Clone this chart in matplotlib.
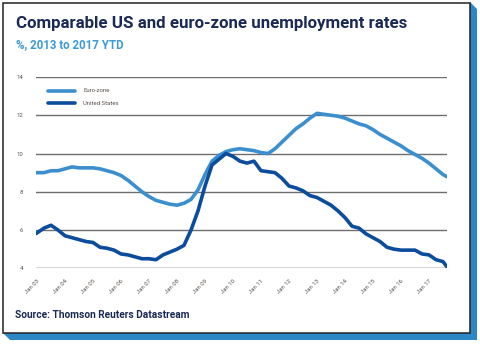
import matplotlib
matplotlib.use("Agg")
import matplotlib.pyplot as plt
from matplotlib.patches import Polygon, Rectangle
import numpy as np

# Quarterly readings, Jan 2003 onwards (Jan / Apr / Jul / Oct)
start_year = 2003.0
euro_zone = [9.0, 9.0, 9.1, 9.1, 9.2, 9.3, 9.25, 9.25,
             9.25, 9.2, 9.1, 9.0, 8.85, 8.6, 8.3, 8.0,
             7.75, 7.55, 7.45, 7.35, 7.3, 7.4, 7.6, 8.1,
             8.9, 9.6, 9.9, 10.1, 10.2, 10.25, 10.2, 10.15,
             10.05, 10.0, 10.25, 10.6, 10.95, 11.3, 11.55, 11.85,
             12.1, 12.05, 12.0, 11.95, 11.85, 11.7, 11.55, 11.45,
             11.25, 11.0, 10.8, 10.6, 10.4, 10.15, 9.95, 9.75,
             9.5, 9.2, 8.9, 8.8]
united_states = [5.85, 6.1, 6.25, 6.0, 5.7, 5.6, 5.5, 5.4,
                 5.35, 5.1, 5.05, 4.95, 4.75, 4.7, 4.6, 4.5,
                 4.5, 4.45, 4.7, 4.85, 5.0, 5.2, 6.0, 7.0,
                 8.3, 9.4, 9.7, 10.0, 9.85, 9.6, 9.5, 9.6,
                 9.1, 9.05, 9.0, 8.7, 8.3, 8.2, 8.05, 7.8,
                 7.7, 7.5, 7.3, 7.0, 6.65, 6.2, 6.1, 5.8,
                 5.6, 5.4, 5.1, 5.0, 4.95, 4.95, 4.95, 4.75,
                 4.7, 4.45, 4.35, 4.1]
year_labels = ["Jan 03", "Jan 04", "Jan 05", "Jan 06", "Jan 07", "Jan 08",
               "Jan 09", "Jan 10", "Jan 11", "Jan 12", "Jan 13", "Jan 14",
               "Jan 15", "Jan 16", "Jan 17"]
y_ticks = [4, 6, 8, 10, 12, 14]

n = len(euro_zone)
t = start_year + 0.25 * np.arange(n)
t[-1] = t[-2] + 0.13  # latest reading (mid 2017)

EURO_COL = "#3b8fcf"
US_COL = "#0b4c9c"
NAVY = "#1b2a55"
SUB_COL = "#3d9ad6"
SHADOW = "#2b87c5"
TICK_COL = "#5b524c"

W, H = 480, 344
fig = plt.figure(figsize=(W / 100, H / 100), dpi=100)
fig.patch.set_facecolor("white")

# card background, drawn in pixel coordinates
bg = fig.add_axes([0, 0, 1, 1], zorder=0)
bg.set_xlim(0, W)
bg.set_ylim(H, 0)
bg.axis("off")
bg.add_patch(Polygon([(470, 2), (477, 9), (477, 340), (10, 340), (3, 333), (470, 333)],
                     closed=True, facecolor=SHADOW, edgecolor="none"))
bg.add_patch(Rectangle((2.5, 2.5), 467.5, 330.5, facecolor="white",
                       edgecolor="#222222", linewidth=1.1))

bg.text(16, 23.5, "Comparable US and euro-zone unemployment rates", fontsize=12.2,
        fontweight="bold", color=NAVY, family="Roboto", va="center", ha="left")
bg.text(16, 45, "%, 2013 to 2017 YTD", fontsize=8.3, fontweight="bold",
        color=SUB_COL, family="Roboto", va="center", ha="left")
bg.text(15, 315, "Source: Thomson Reuters Datastream", fontsize=7.3,
        fontweight="bold", color=NAVY, family="Roboto", va="center", ha="left")

# legend
bg.plot([48, 75], [90.7, 90.7], color=EURO_COL, lw=2.6, solid_capstyle="round")
bg.plot([48, 75], [103.3, 103.3], color=US_COL, lw=2.6, solid_capstyle="round")
bg.text(83, 90.7, "Euro-zone", fontsize=4.3, color=TICK_COL, family="Roboto",
        va="center", ha="left")
bg.text(83, 103.3, "United States", fontsize=4.3, color=TICK_COL, family="Roboto",
        va="center", ha="left")

# chart area
x0_px, x1_px = 36, 447
y_top_px, y_bot_px = 77, 268.3
ax = fig.add_axes([x0_px / W, 1 - y_bot_px / H, (x1_px - x0_px) / W,
                   (y_bot_px - y_top_px) / H], zorder=1)
ax.patch.set_alpha(0)
px_per_year = 28.0
ax.set_xlim(start_year - 1 / px_per_year, start_year + (x1_px - x0_px - 1) / px_per_year)
ax.set_ylim(4, 14)
for s in ax.spines.values():
    s.set_visible(False)
for v in y_ticks:
    ax.axhline(v, color="#6e6e6e" if v != 4 else "#333333", lw=1.0, zorder=1)

ax.plot(t, euro_zone, color=EURO_COL, lw=2.6, zorder=3, solid_joinstyle="round")
ax.plot(t, united_states, color=US_COL, lw=2.6, zorder=4, solid_joinstyle="round")

ax.set_yticks(y_ticks)
ax.set_yticklabels([str(v) for v in y_ticks], fontsize=4.3, color=TICK_COL,
                   family="Roboto")
ax.tick_params(axis="y", length=0, pad=9)
xt = start_year + np.arange(len(year_labels))
ax.set_xticks(xt)
ax.set_xticklabels(year_labels, fontsize=4.3, color=TICK_COL, family="Roboto",
                   rotation=45, ha="right", va="top", rotation_mode="anchor")
ax.tick_params(axis="x", length=0, pad=7)

fig.savefig("out.png", dpi=100, facecolor="white")
